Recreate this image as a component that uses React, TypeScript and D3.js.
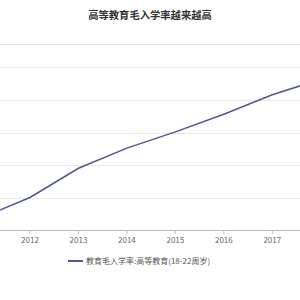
import React from "react";
import * as d3 from "d3";

// data (gross enrolment rate, %)
const years = ["2011", "2012", "2013", "2014", "2015", "2016", "2017", "2018"];
const rates = [26.9, 30.0, 34.5, 37.6, 40.1, 42.8, 45.8, 48.2];
const yTicks = [30, 35, 40, 45, 50];
const labelYears = ["2012", "2013", "2014", "2015", "2016", "2017"];

const title = "高等教育毛入学率越来越高";
const seriesName = "教育毛入学率:高等教育(18-22周岁)";

const W = 300;
const H = 300;
const lineColor = "#4f5797";
const font = "'Noto Sans CJK SC', 'Noto Sans', sans-serif";

export default function App() {
  // x: the visible window is a crop of a wider chart, so 2011 and 2018 sit off the edges
  const x = d3.scalePoint<string>().domain(years).range([-18.46, 320.76]);
  const y = d3.scaleLinear().domain([25, 55]).range([230, 35]);

  const data = years.map((yr, i) => ({ yr, v: rates[i] }));
  const line = d3
    .line<{ yr: string; v: number }>()
    .x((d) => x(d.yr) as number)
    .y((d) => y(d.v));

  return (
    <svg
      width={W}
      height={H}
      style={{ position: "fixed", left: 0, top: 0, background: "#fff" }}
      fontFamily={font}
    >
      <defs>
        <clipPath id="plot">
          <rect x={0} y={45} width={W} height={190} />
        </clipPath>
      </defs>

      <text x={150} y={19} textAnchor="middle" fontSize={10.3} fontWeight="bold" fill="#333">
        {title}
      </text>
      <line x1={0} x2={W} y1={44.5} y2={44.5} stroke="#e6e6e6" strokeWidth={1} />

      {/* grid */}
      {yTicks.map((t) => (
        <line key={t} x1={0} x2={W} y1={Math.round(y(t)) + 0.5} y2={Math.round(y(t)) + 0.5} stroke="#e8e8e8" strokeWidth={1} />
      ))}

      {/* x axis */}
      <line x1={0} x2={W} y1={230.5} y2={230.5} stroke="#bbb" strokeWidth={1} />
      {years.map((yr) => (
        <line key={yr} x1={x(yr)} x2={x(yr)} y1={230} y2={234} stroke="#bbb" strokeWidth={1} />
      ))}
      {labelYears.map((yr) => (
        <text key={yr} x={x(yr)} y={243} textAnchor="middle" fontSize={8} fill="#666">
          {yr}
        </text>
      ))}

      <path d={line(data) ?? ""} fill="none" stroke={lineColor} strokeWidth={1.5} clipPath="url(#plot)" />

      {/* legend */}
      <line x1={68} x2={83} y1={261} y2={261} stroke={lineColor} strokeWidth={2} />
      <text x={86} y={264} fontSize={8} fill="#555">
        {seriesName}
      </text>
    </svg>
  );
}
